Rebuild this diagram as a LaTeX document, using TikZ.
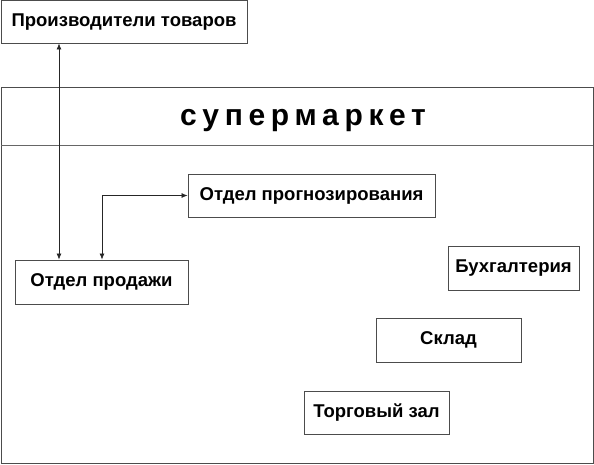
\documentclass[tikz,border=0pt]{standalone}
\usepackage{fontspec}
\setmainfont{Liberation Sans}
\usetikzlibrary{arrows.meta}
\tikzset{
  box/.style={draw=black!70, line width=0.9pt, fill=white, inner sep=0pt,
    font=\fontsize{18.5}{21}\selectfont\bfseries, text height=0.9em, text depth=0pt},
  link/.style={draw=black!85, line width=0.7pt, {Latex[length=6pt,width=5pt]}-{Latex[length=6pt,width=5pt]}},
}
\begin{document}
\begin{tikzpicture}[x=1pt,y=-1pt]
\useasboundingbox (0,0) rectangle (594,464);
\fill[white] (0,0) rectangle (594,464);
% supermarket frame
\draw[draw=black!70, line width=0.9pt] (1,87) rectangle (593,463);
\draw[draw=black!60, line width=0.8pt] (1,145) -- (593,145);
\node[font=\fontsize{30}{33}\selectfont\bfseries\addfontfeature{LetterSpace=19}] (title) at (303,121) {супермаркет};
% boxes
\node[box, minimum width=246pt, minimum height=43pt] (prod) at (124,21.5) {Производители товаров};
\node[box, minimum width=247pt, minimum height=43pt] (prog) at (311.5,195.5) {Отдел прогнозирования};
\node[box, minimum width=173pt, minimum height=44pt] (sale) at (101.5,282) {Отдел продажи};
\node[box, minimum width=131pt, minimum height=44pt] (buh) at (513.5,268) {Бухгалтерия};
\node[box, minimum width=145pt, minimum height=44pt] (sklad) at (448.5,340) {Склад};
\node[box, minimum width=145pt, minimum height=43pt] (zal) at (376.5,412.5) {Торговый зал};
% connectors
\draw[link] (prod.south -| 59,0) -- (sale.north -| 59,0);
\draw[link] (sale.north -| 102,0) |- (prog.west);
\end{tikzpicture}
\end{document}
